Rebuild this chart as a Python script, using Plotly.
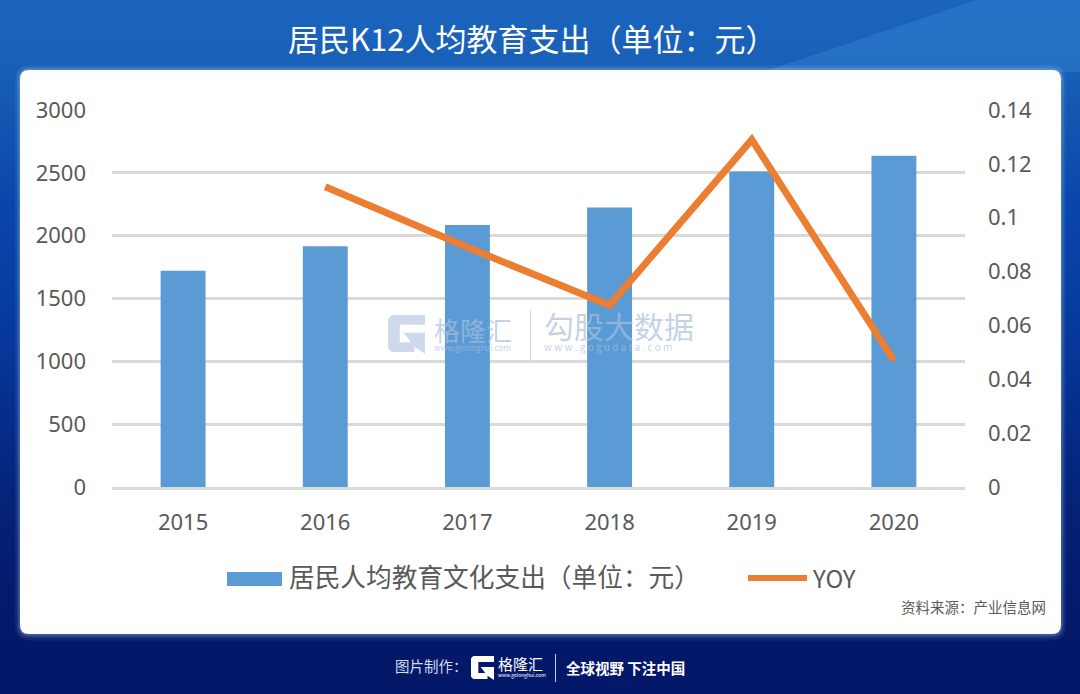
import plotly.graph_objects as go

W, H = 1080, 694

years = ['2015', '2016', '2017', '2018', '2019', '2020']
spend = [1720, 1915, 2085, 2225, 2510, 2635]
yoy = [None, 0.1115, 0.089, 0.0675, 0.129, 0.047]

title_text = '居民K12人均教育支出（单位：元）'
bar_name = '居民人均教育文化支出（单位：元）'
line_name = 'YOY'
source_text = '资料来源：产业信息网'
footer_left = '图片制作：'
footer_right = '<b>全球视野 下注中国</b>'
brand = '格隆汇'
brand_url = 'www.gelonghui.com'
wm_name = '勾股大数据'
wm_url = 'w w w . g o g u d a t a . c o m'

CJK = 'Noto Sans CJK SC'
GREY = '#595959'
BLUE = '#5B9BD5'
ORANGE = '#ED7D31'
WM = 'rgba(170,190,220,0.7)'


def px(x):
    return x / W


def py(y):
    return 1 - y / H


def lerp(a, b, t):
    return tuple(round(a[i] + (b[i] - a[i]) * t) for i in range(3))


def poly(points, **kw):
    d = 'M' + ' L'.join(f'{px(x):.4f},{py(y):.4f}' for x, y in points) + ' Z'
    return dict(type='path', xref='paper', yref='paper', path=d, line_width=0, **kw)


def rect(x0, y0, x1, y1, **kw):
    return dict(type='rect', xref='paper', yref='paper', x0=px(x0), x1=px(x1),
                y0=py(y0), y1=py(y1), line_width=0, **kw)


def rounded(x0, y0, x1, y1, r, **kw):
    d = (f'M{px(x0 + r)},{py(y0)} L{px(x1 - r)},{py(y0)} Q{px(x1)},{py(y0)} {px(x1)},{py(y0 + r)} '
         f'L{px(x1)},{py(y1 - r)} Q{px(x1)},{py(y1)} {px(x1 - r)},{py(y1)} '
         f'L{px(x0 + r)},{py(y1)} Q{px(x0)},{py(y1)} {px(x0)},{py(y1 - r)} '
         f'L{px(x0)},{py(y0 + r)} Q{px(x0)},{py(y0)} {px(x0 + r)},{py(y0)} Z')
    return dict(type='path', xref='paper', yref='paper', path=d, line_width=0, **kw)


def g_logo(x, y, s, color, opacity=1.0, layer='above'):
    # the little G mark, s = box size
    pts = [(0.1, 0), (1, 0), (1, 0.26), (0.32, 0.26), (0.32, 0.74), (0.62, 0.74),
           (0.42, 0.48), (1, 0.48), (1, 1.05), (0.72, 0.86), (0.72, 1), (0.1, 1), (0, 0.9), (0, 0.1)]
    return poly([(x + a * s, y + b * s) for a, b in pts], fillcolor=color, opacity=opacity, layer=layer)


shapes = []

# background gradient, each band runs to the bottom so there are no seams
stops = [(0, (27, 100, 190)), (70, (24, 95, 182)), (200, (10, 70, 170)), (320, (6, 58, 158)),
         (500, (4, 34, 120)), (640, (4, 24, 106)), (694, (4, 24, 106))]
for y in range(0, H, 4):
    for (y0, c0), (y1, c1) in zip(stops, stops[1:]):
        if y0 <= y < y1:
            c = lerp(c0, c1, (y - y0) / (y1 - y0))
            break
    shapes.append(rect(0, y, W, H, fillcolor=f'rgb{c}', layer='below'))

# lighter diagonal band top right
shapes.append(poly([(977, 0), (1080, 0), (1080, 72), (763, 72)], fillcolor='rgba(70,150,225,0.3)', layer='below'))

# soft glow round the card, then the card
for grow, alpha in [(5, 0.07), (3, 0.10), (1.5, 0.18)]:
    shapes.append(rounded(20 - grow, 70 - grow, 1061 + grow, 634 + grow * 1.3, 10 + grow,
                          fillcolor=f'rgba(190,220,250,{alpha})', layer='below'))
shapes.append(rounded(20, 70, 1061, 634, 9, fillcolor='white', layer='below'))

# watermark
shapes.append(g_logo(388, 315, 37, '#B4C6E0', 0.65))
shapes.append(rect(530, 310, 531, 360, fillcolor='#B4C6E0', opacity=0.65))

# legend keys
shapes.append(rect(227, 572, 282, 586, fillcolor=BLUE))
shapes.append(rect(748, 575, 807, 581, fillcolor=ORANGE))

# footer
shapes.append(g_logo(471, 656, 23, 'white'))
shapes.append(rect(555, 654, 556, 682, fillcolor='#C8D4E8'))


def note(text, x, y, size, color, anchor='left', **kw):
    return dict(text=text, xref='paper', yref='paper', x=px(x), y=py(y), xanchor=anchor, yanchor='middle',
                showarrow=False, borderpad=0, font=dict(family=CJK, size=size, color=color), **kw)


def stacked(big, big_size, small, small_size, x, y, color):
    # big word over a small url; line spacing follows the small size, which keeps them tight
    text = f'<span style="font-size:{big_size}px">{big}</span><br>{small}'
    return note(text, x, y, small_size, color, align='left')


annotations = [
    note(title_text, 532, 37, 31, 'white', 'center'),
    note(bar_name, 288, 575, 25.7, GREY),
    note(line_name, 811, 577, 24, GREY),
    note(source_text, 1047, 606, 14.5, GREY, 'right'),
    stacked(brand, 26, brand_url, 8, 433, 332, WM),
    stacked(wm_name, 30, wm_url, 10, 543, 328, WM),
    note(footer_left, 394, 665, 14.5, '#D5DCEC'),
    stacked(brand, 15, brand_url, 5, 497, 666, 'white'),
    note(footer_right, 565, 667, 14.5, 'white'),
]

fig = go.Figure()
fig.add_bar(x=years, y=spend, name=bar_name, marker=dict(color=BLUE, line_width=0), yaxis='y')
fig.add_scatter(x=years, y=yoy, name=line_name, mode='lines', line=dict(color=ORANGE, width=7),
                yaxis='y2', connectgaps=False)

tick_font = dict(family='Noto Sans', size=22, color=GREY)
fig.update_layout(
    width=W, height=H,
    margin=dict(l=0, r=0, t=0, b=0, pad=0, autoexpand=False),
    paper_bgcolor='white', plot_bgcolor='rgba(0,0,0,0)',
    showlegend=False,
    bargap=0.684,
    shapes=shapes,
    annotations=annotations,
    xaxis=dict(domain=[px(112), px(965)], type='category', tickfont=tick_font, showgrid=False,
               showline=True, linecolor='#D9D9D9', linewidth=2.5, ticks='', ticklabelstandoff=14),
    yaxis=dict(domain=[py(487), py(110)], range=[0, 3000], dtick=500, tickfont=tick_font,
               gridcolor='#D9D9D9', gridwidth=2.5, zeroline=False, ticklabelstandoff=25),
    yaxis2=dict(domain=[py(487), py(110)], range=[0, 0.14], dtick=0.02, overlaying='y', side='right',
                anchor='x', tickfont=tick_font, showgrid=False, zeroline=False, ticklabelstandoff=22),
)

fig.write_html('out.html', config=dict(displayModeBar=False),
               post_script="document.body.style.margin='0';")
